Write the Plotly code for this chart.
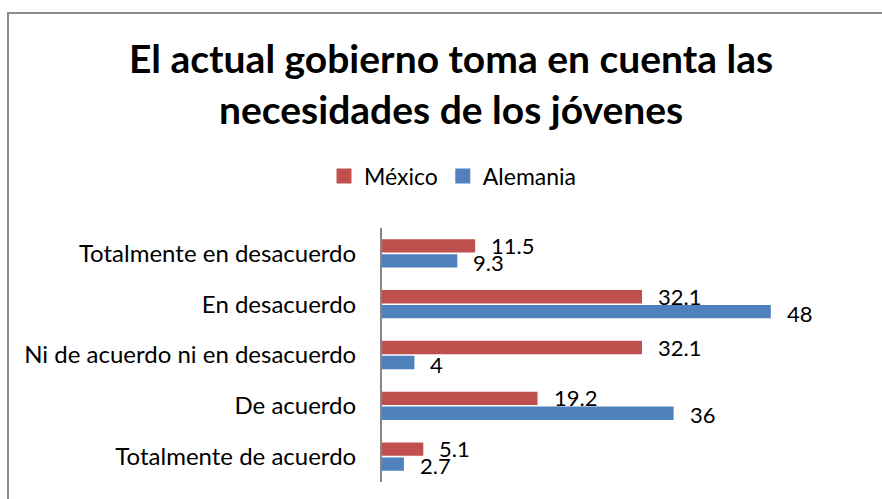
import plotly.graph_objects as go

categories = [
    "Totalmente en desacuerdo",
    "En desacuerdo",
    "Ni de acuerdo ni en desacuerdo",
    "De acuerdo",
    "Totalmente de acuerdo",
]
mexico = [11.5, 32.1, 32.1, 19.2, 5.1]
alemania = [9.3, 48, 4, 36, 2.7]
series_names = ["México", "Alemania"]

RED = "#C0504D"
BLUE = "#4F81BD"
FONT = "Lato"

fig = go.Figure()
for name, vals, color in zip(series_names, (mexico, alemania), (RED, BLUE)):
    fig.add_trace(go.Bar(y=categories, x=vals, name=name, orientation="h",
                         marker=dict(color=color, line=dict(width=0)),
                         showlegend=False))

# square legend keys
for name, color in zip(series_names, (RED, BLUE)):
    fig.add_trace(go.Scatter(x=[None], y=[None], mode="markers", name=name,
                             marker=dict(symbol="square", size=15, color=color),
                             showlegend=True))

# value labels just beyond each bar end
for vals, dy in ((mexico, 8), (alemania, -9)):
    for cat, v in zip(categories, vals):
        fig.add_annotation(x=v, y=cat, xref="x", yref="y", text=f"{v:g}",
                           showarrow=False, xanchor="left", yanchor="middle",
                           xshift=14, yshift=dy,
                           font=dict(family=FONT, size=22, color="#000000"))

# title
fig.add_annotation(x=(451 - 382) / 405, y=1 + (228 - 83) / 254, xref="paper", yref="paper",
                   text="El actual gobierno toma en cuenta las<br>necesidades de los jóvenes",
                   showarrow=False, xanchor="center", yanchor="middle", align="center",
                   font=dict(family=FONT, size=39, color="#000000", weight="bold"))

# chart-area border (top and left edges)
fig.add_shape(type="rect", xref="paper", yref="paper",
              x0=(8 - 382) / 405, x1=(900 - 382) / 405,
              y0=(482 - 520) / 254, y1=1 + (228 - 13) / 254,
              line=dict(color="#8C8C8C", width=2), fillcolor="rgba(0,0,0,0)", layer="below")

fig.update_layout(
    width=882, height=499,
    margin=dict(l=382, r=95, t=228, b=17),
    paper_bgcolor="white", plot_bgcolor="white",
    barmode="group", bargap=0.41, bargroupgap=0.11,
    showlegend=True,
    legend=dict(orientation="h", x=(453 - 382) / 405, xanchor="center",
                y=1 + (228 - 176) / 254, yanchor="middle",
                font=dict(family=FONT, size=23, color="#000000"),
                itemwidth=30, traceorder="normal"),
    xaxis=dict(range=[0, 50], visible=False, showgrid=False, zeroline=False),
    yaxis=dict(autorange="reversed", showline=True, linecolor="#868686", linewidth=2,
               ticks="outside", tickcolor="rgba(0,0,0,0)", ticklen=19,
               showgrid=False, tickfont=dict(family=FONT, size=24, color="#000000")),
    font=dict(family=FONT),
)

fig.write_html("out.html")
